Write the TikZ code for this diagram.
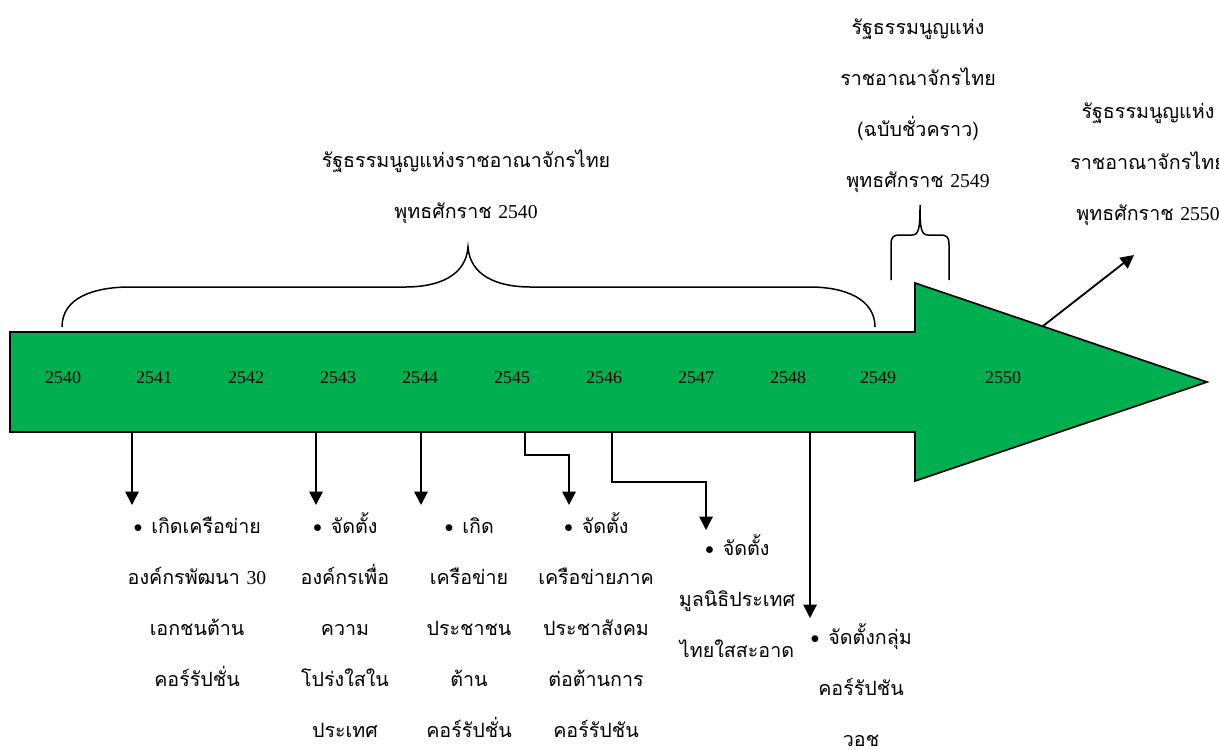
\documentclass[tikz,border=0pt]{standalone}
\usepackage{fontspec}
\setmainfont{Liberation Serif}
\newfontfamily\thaifont[Script=Thai]{Loma}
\usetikzlibrary{arrows.meta}
\definecolor{barGreen}{HTML}{00B050}
\newcommand{\dotitem}{\raisebox{-2.2pt}{\rmfamily\fontsize{17}{17}\selectfont\textbullet}\hspace{5pt}}

\begin{document}
\begin{tikzpicture}[x=0.6pt, y=-0.6pt,
  yearlbl/.style={font=\fontsize{10.8}{12}\selectfont, inner sep=0pt},
  note/.style={align=center, anchor=base, inner sep=0pt, font=\thaifont\fontsize{11.8}{30.5}\selectfont},
  link/.style={line width=1.1pt, -{Triangle[length=8pt,width=8pt]}},
  brace/.style={line width=0.9pt}]
\useasboundingbox (0,0) rectangle (1219,749);
\def\timeline{(10,332) -- (915,332) -- (915,283) -- (1207,382) -- (915,481) -- (915,432) -- (10,432) -- cycle}
\draw[line width=1pt, fill=barGreen] \timeline;

% years on the bar
\foreach \yr/\xx in {2540/63, 2541/154, 2542/246, 2543/338, 2544/420, 2545/512, 2546/604, 2547/696, 2548/788, 2549/878, 2550/1003}
  \node[yearlbl] (y\yr) at (\xx,378) {\yr};

% braces
\draw[brace] (62,327) .. controls (62,297) and (95,287) .. (130,287) -- (405,287)
  .. controls (440,287) and (466,275) .. (468,247) .. controls (470,275) and (496,287) .. (531,287)
  -- (810,287) .. controls (845,287) and (875,299) .. (875,327);
\draw[brace] (891,280) -- (891,245) .. controls (891,237) and (893,235) .. (900,235) -- (912,235)
  .. controls (919,235) and (920,228) .. (920,205) .. controls (920,228) and (921,235) .. (928,235)
  -- (940,235) .. controls (947,235) and (949,237) .. (949,245) -- (949,280);

% constitutions (node sits on the last line)
\node[note] (c40) at (466,218) {รัฐธรรมนูญแห่งราชอาณาจักรไทย\\พุทธศักราช {\rmfamily 2540}};
\node[note] (c49) at (918,187) {รัฐธรรมนูญแห่ง\\ราชอาณาจักรไทย\\(ฉบับชั่วคราว)\\พุทธศักราช {\rmfamily 2549}};
\node[note] (c50) at (1148,220) {รัฐธรรมนูญแห่ง\\ราชอาณาจักรไทย\\พุทธศักราช {\rmfamily 2550}};
\coordinate (h50) at (1043,326);
\coordinate (e50) at (1134,255);
\draw[link] (h50) -- (e50);

% events
\node[note] (ev1) at (197,686) {\dotitem เกิดเครือข่าย\\องค์กรพัฒนา {\rmfamily 30}\\เอกชนต้าน\\คอร์รัปชั่น};
\node[note] (ev2) at (345,737) {\dotitem จัดตั้ง\\องค์กรเพื่อ\\ความ\\โปร่งใสใน\\ประเทศ};
\node[note] (ev3) at (469,737) {\dotitem เกิด\\เครือข่าย\\ประชาชน\\ต้าน\\คอร์รัปชั่น};
\node[note] (ev4) at (596,737) {\dotitem จัดตั้ง\\เครือข่ายภาค\\ประชาสังคม\\ต่อต้านการ\\คอร์รัปชัน};
\node[note] (ev5) at (737,657) {\dotitem จัดตั้ง\\มูลนิธิประเทศ\\ไทยใสสะอาด};
\node[note] (ev6) at (861,746) {\dotitem จัดตั้งกลุ่ม\\คอร์รัปชัน\\วอช};

\coordinate (s1) at (132,432); \coordinate (d1) at (132,505);
\coordinate (s2) at (316,432); \coordinate (d2) at (316,505);
\coordinate (s3) at (421,432); \coordinate (d3) at (421,505);
\coordinate (s4) at (525,432); \coordinate (k4) at (569,455); \coordinate (d4) at (569,505);
\coordinate (s5) at (612,432); \coordinate (k5) at (706,482); \coordinate (d5) at (706,530);
\coordinate (s6) at (810,432); \coordinate (d6) at (810,618);
\draw[link] (s1) -- (d1);
\draw[link] (s2) -- (d2);
\draw[link] (s3) -- (d3);
\draw[link] (s4) |- (k4) -- (d4);
\draw[link] (s5) |- (k5) -- (d5);
\draw[link] (s6) -- (d6);
\end{tikzpicture}
\end{document}
